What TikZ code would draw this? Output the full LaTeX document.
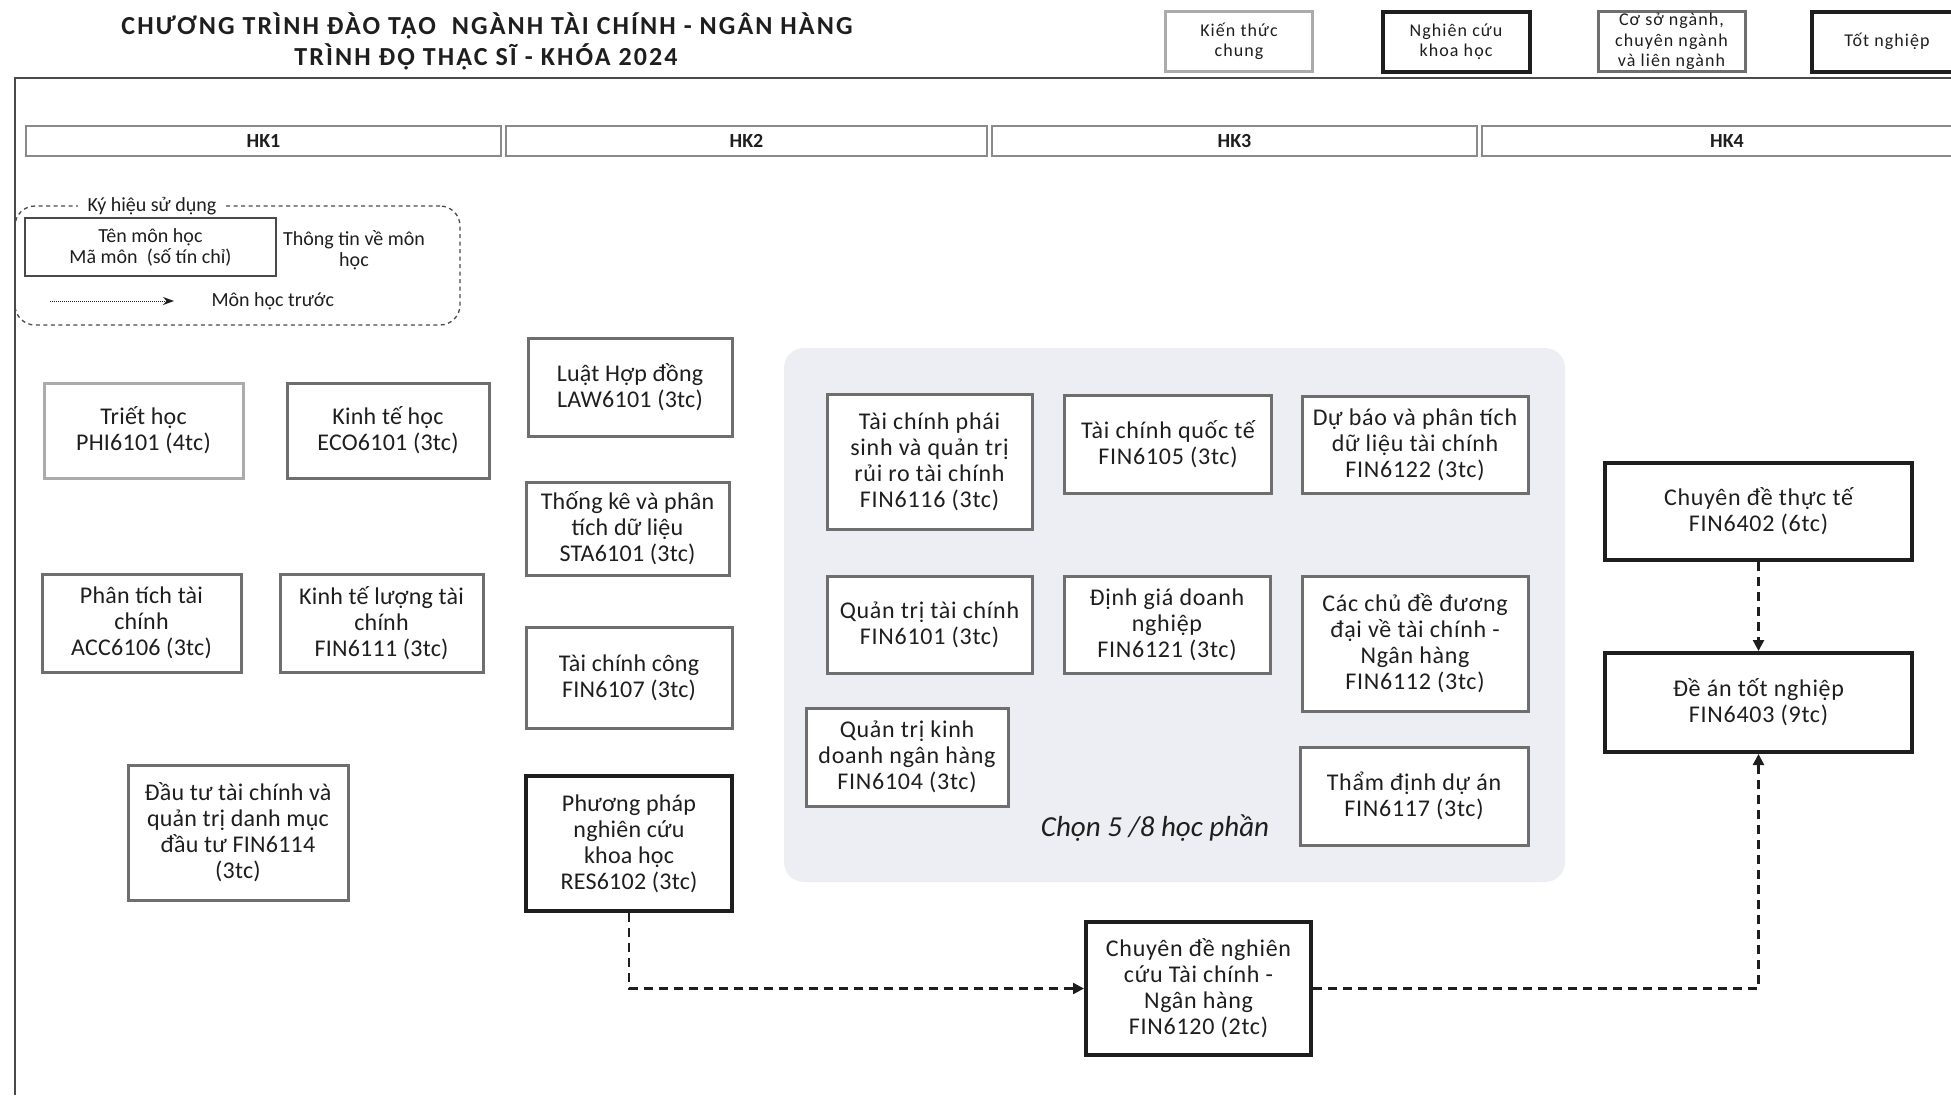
\documentclass[tikz,border=0pt]{standalone}
\usepackage{fontspec}
\setmainfont{Carlito}
\newfontfamily\spaced[LetterSpace=6]{Carlito}
\newfontfamily\coursefont[LetterSpace=1]{Carlito}
\newfontfamily\widecoursefont[LetterSpace=3]{Carlito}
\newfontfamily\titlefont[LetterSpace=8]{Carlito}
\usetikzlibrary{arrows.meta}
\definecolor{ink}{HTML}{1E1E1E}
\definecolor{lightgr}{HTML}{ABABAB}
\definecolor{midgr}{HTML}{6E6E6E}
\definecolor{hkgr}{HTML}{8A8A8A}
\definecolor{framegr}{HTML}{4A4A4A}
\definecolor{selbg}{HTML}{ECEEF3}
\tikzset{
 course/.style={draw, fill=white, line width=3pt, align=center, inner sep=0pt, text=ink, font=\coursefont\fontsize{24}{26}\selectfont},
 wide/.style={font=\widecoursefont\fontsize{24}{26}\selectfont},
 gen/.style={course, draw=lightgr},
 core/.style={course, draw=midgr},
 resb/.style={course, draw=ink, line width=4pt},
 sz/.style 2 args={minimum width=#1pt, minimum height=#2pt},
 hkbar/.style={draw=hkgr, line width=1.6pt, inner sep=0pt, minimum height=30pt, font=\bfseries\fontsize{20}{22}\selectfont, text=ink},
 legbox/.style={draw, fill=white, line width=3pt, align=center, inner sep=0pt, minimum width=147pt, minimum height=60pt, text=ink, font=\spaced\fontsize{18}{20.5}\selectfont},
 conn/.style={draw=ink, line width=2.4pt, dash pattern=on 9pt off 6pt, -{Triangle[length=11pt,width=11pt]}},
 legtext/.style={text=ink, align=center, font=\fontsize{20}{21}\selectfont},
 titletext/.style={text=ink, font=\titlefont\bfseries\fontsize{26}{28}\selectfont}
}
\begin{document}
\begin{tikzpicture}[x=1pt,y=-1pt]
\useasboundingbox[fill=white] (0,0) rectangle (1951,1095);
% title
\node[titletext] (t1) at (487,26) {CHƯƠNG TRÌNH ĐÀO TẠO\ \ NGÀNH TÀI CHÍNH - NGÂN HÀNG};
\node[titletext] (t2) at (486,57) {TRÌNH ĐỘ THẠC SĨ - KHÓA 2024};
% top legend
\node[legbox, draw=lightgr] (lk1) at (1239,41.5) {Kiến thức\\chung};
\node[legbox, draw=ink, line width=4pt] (lk2) at (1456,41.5) {Nghiên cứu\\khoa học};
\node[legbox, draw=midgr] (lk3) at (1671.5,41.5) {Cơ sở ngành,\\chuyên ngành\\và liên ngành};
\node[legbox, draw=ink, line width=4pt, minimum width=150pt] (lk4) at (1887,41.5) {Tốt nghiệp};
% frame
\draw[framegr, line width=2.5pt] (15,1095) -- (15,78) -- (1951,78);
% semester bars
\node[hkbar, minimum width=475pt] (hk1) at (263.5,141) {HK1};
\node[hkbar, minimum width=481pt] (hk2) at (746.5,141) {HK2};
\node[hkbar, minimum width=485pt] (hk3) at (1234.5,141) {HK3};
\node[hkbar, minimum width=490pt] (hk4) at (1727,141) {HK4};
% symbol legend
\node[draw=framegr, line width=1.3pt, dash pattern=on 4pt off 3.5pt, rounded corners=20pt, minimum width=445pt, minimum height=119pt] (legend) at (237.5,265.5) {};
\node[fill=white, inner xsep=10pt, inner ysep=4pt, legtext] (legtitle) at (152,206) {Ký hiệu sử dụng};
\node[draw=framegr, line width=1.5pt, legtext, minimum width=251pt, minimum height=58pt, inner sep=0pt] (legcourse) at (150.5,247) {Tên môn học\\Mã môn\ \ (số tín chỉ)};
\node[legtext] (leginfo) at (354,250) {Thông tin về môn\\học};
\coordinate (la) at (50,301);
\coordinate (lb) at (174,301);
\draw[ink, densely dotted, line width=1pt, -{Stealth[length=11pt,width=8pt]}] (la) -- (lb);
\node[legtext, anchor=west] (legprev) at (208,301) {Môn học trước};
% HK1
\node[gen, sz={199}{95}] (phi) at (143.5,430.5) {Triết học\\PHI6101 (4tc)};
\node[core, sz={202}{95}] (eco) at (388,430.5) {Kinh tế học\\ECO6101 (3tc)};
\node[core, sz={199}{98}] (acc) at (141.5,623) {Phân tích tài\\chính\\ACC6106 (3tc)};
\node[core, sz={203}{98}] (f6111) at (381.5,623) {Kinh tế lượng tài\\chính\\FIN6111 (3tc)};
\node[core, sz={220}{135}] (f6114) at (238,832.5) {Đầu tư tài chính và\\quản trị danh mục\\đầu tư FIN6114\\(3tc)};
% HK2
\node[core, sz={204}{98}] (law) at (630,387) {Luật Hợp đồng\\LAW6101 (3tc)};
\node[core, sz={203}{93}] (sta) at (627.5,528.5) {Thống kê và phân\\tích dữ liệu\\STA6101 (3tc)};
\node[core, sz={206}{101}] (f6107) at (629,677.5) {Tài chính công\\FIN6107 (3tc)};
\node[resb, sz={206}{135}] (res) at (629,843.5) {Phương pháp\\nghiên cứu\\khoa học\\RES6102 (3tc)};
% HK3 elective area
\node[fill=selbg, rounded corners=20pt, minimum width=781pt, minimum height=534pt, inner sep=0pt] (sel) at (1174.5,615) {};
\node[core, wide, sz={205}{135}] (f6116) at (929.5,461.5) {Tài chính phái\\sinh và quản trị\\rủi ro tài chính\\FIN6116 (3tc)};
\node[core, wide, sz={207}{98}] (f6105) at (1168,444) {Tài chính quốc tế\\FIN6105 (3tc)};
\node[core, wide, sz={226}{97}] (f6122) at (1415,444.5) {Dự báo và phân tích\\dữ liệu tài chính\\FIN6122 (3tc)};
\node[core, wide, sz={205}{97}] (f6101) at (929.5,624.5) {Quản trị tài chính\\FIN6101 (3tc)};
\node[core, wide, sz={206}{97}] (f6121) at (1167,624.5) {Định giá doanh\\nghiệp\\FIN6121 (3tc)};
\node[core, wide, sz={226}{135}] (f6112) at (1415,643.5) {Các chủ đề đương\\đại về tài chính -\\Ngân hàng\\FIN6112 (3tc)};
\node[core, wide, sz={202}{98}] (f6104) at (907,757) {Quản trị kinh\\doanh ngân hàng\\FIN6104 (3tc)};
\node[core, wide, sz={228}{98}] (f6117) at (1414,796) {Thẩm định dự án\\FIN6117 (3tc)};
\node[text=ink, font=\itshape\fontsize{29}{31}\selectfont] (choose) at (1155,828) {Chọn 5 /8 học phần};
% research seminar
\node[resb, wide, sz={225}{133}] (f6120) at (1198.5,988.5) {Chuyên đề nghiên\\cứu Tài chính -\\Ngân hàng\\FIN6120 (2tc)};
% HK4
\node[resb, wide, sz={307}{97}] (f6402) at (1758.5,511.5) {Chuyên đề thực tế\\FIN6402 (6tc)};
\node[resb, wide, sz={307}{99}] (f6403) at (1758.5,702.5) {Đề án tốt nghiệp\\FIN6403 (9tc)};
% connectors
\draw[conn] (res.south) |- (f6120.west);
\draw[conn] (f6120.east) -| (f6403.south);
\draw[conn] (f6402.south) -- (f6403.north);
\end{tikzpicture}
\end{document}
